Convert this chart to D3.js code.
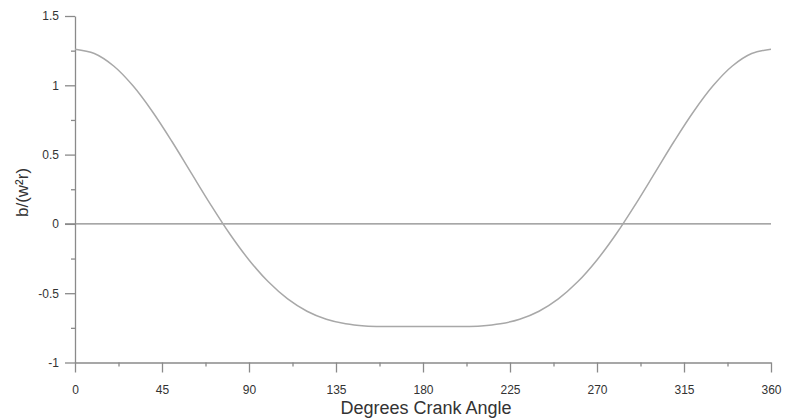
<!DOCTYPE html>
<html>
<head>
<meta charset="utf-8">
<script src="https://cdn.jsdelivr.net/npm/d3@7"></script>
<style>
  html, body { margin: 0; padding: 0; background: #fff; }
  svg { display: block; font-family: "Liberation Sans", Arial, Helvetica, sans-serif; }
</style>
</head>
<body>
<svg id="chart" width="785" height="420"></svg>
<script>
// Crank angle in degrees (x) and normalized acceleration b/(w²r) (y)
const angles = [0, 10, 20, 30, 40, 50, 60, 70, 80, 90, 100, 110, 120, 130, 140, 150, 160, 170, 180,
                190, 200, 210, 220, 230, 240, 250, 260, 270, 280, 290, 300, 310, 320, 330, 340, 350, 360];
const accel  = [1.26, 1.229, 1.139, 0.996, 0.811, 0.598, 0.37, 0.143, -0.071, -0.26, -0.418, -0.541, -0.63,
                -0.688, -0.721, -0.736, -0.740, -0.740, -0.74,
                -0.740, -0.740, -0.736, -0.721, -0.688, -0.63, -0.541, -0.418, -0.26, -0.071, 0.143, 0.37,
                0.598, 0.811, 0.996, 1.139, 1.229, 1.26];
const xTicks = [0, 45, 90, 135, 180, 225, 270, 315, 360];
const xMinorTicks = [22.5, 67.5, 112.5, 157.5, 202.5, 247.5, 292.5, 337.5];
const yTicks = [-1, -0.5, 0, 0.5, 1, 1.5];
const yMinorTicks = [-0.75, -0.25, 0.25, 0.75, 1.25];
const xTitle = "Degrees Crank Angle";
const yTitle = "b/(w²r)";

const svg = d3.select("#chart");
const plotLeft = 75, plotRight = 771, plotTop = 16, plotBottom = 362.5;

const x = d3.scaleLinear().domain([0, 360]).range([plotLeft, plotRight]);
const y = d3.scaleLinear().domain([-1, 1.5]).range([plotBottom, plotTop]);

const axisColor = "#8a8a8a";
const textColor = "#333333";

// X axis (at y = -1)
const gx = svg.append("g").attr("transform", `translate(0,${y(-1)})`);
gx.call(d3.axisBottom(x).tickValues(xTicks).tickSize(10).tickPadding(13).tickSizeOuter(0).tickFormat(d3.format("d")));
gx.append("g").call(d3.axisBottom(x).tickValues(xMinorTicks).tickSize(4).tickSizeOuter(0).tickFormat(""))
  .select(".domain").remove();

// Y axis
const gy = svg.append("g").attr("transform", `translate(${x(0)},0)`);
gy.call(d3.axisLeft(y).tickValues(yTicks).tickSize(10).tickPadding(6).tickSizeOuter(0).tickFormat(d => String(d)));
gy.append("g").call(d3.axisLeft(y).tickValues(yMinorTicks).tickSize(4).tickSizeOuter(0).tickFormat(""))
  .select(".domain").remove();

svg.selectAll(".domain, .tick line").attr("stroke", axisColor).attr("stroke-width", 1.3);
svg.selectAll(".tick text").attr("fill", textColor).attr("font-size", 12)
  .attr("font-family", '"Liberation Sans", Arial, sans-serif');

// Zero line
svg.append("line")
  .attr("x1", x(0) - 10).attr("x2", x(360))
  .attr("y1", y(0)).attr("y2", y(0))
  .attr("stroke", axisColor).attr("stroke-width", 1.3);

// Curve
const pts = angles.map((a, i) => [a, accel[i]]);
svg.append("path")
  .datum(pts)
  .attr("fill", "none")
  .attr("stroke", "#a8a8a8")
  .attr("stroke-width", 1.5)
  .attr("d", d3.line().x(d => x(d[0])).y(d => y(d[1])).curve(d3.curveCatmullRom.alpha(0.5)));

// Axis titles
svg.append("text")
  .attr("x", 426).attr("y", 414)
  .attr("text-anchor", "middle")
  .attr("font-size", 18)
  .attr("fill", textColor)
  .text(xTitle);

svg.append("text")
  .attr("transform", `translate(28,${(163 + 222) / 2}) rotate(-90)`)
  .attr("text-anchor", "middle")
  .attr("font-size", 17)
  .attr("fill", textColor)
  .text(yTitle);
</script>
</body>
</html>
